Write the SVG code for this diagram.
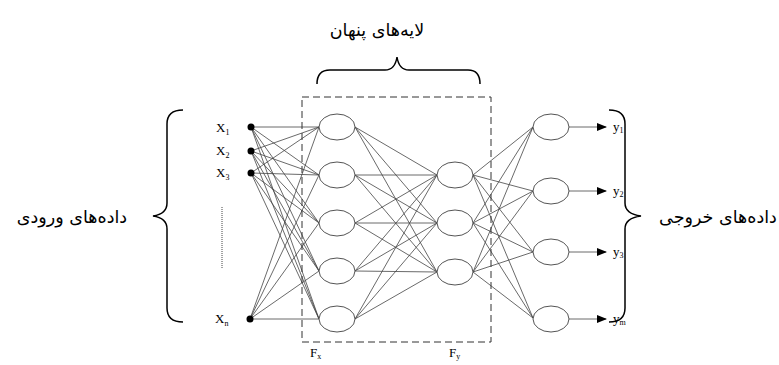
<svg xmlns="http://www.w3.org/2000/svg" width="779" height="365" viewBox="0 0 779 365">
<defs>
<marker id="ah" markerWidth="10" markerHeight="8" refX="9" refY="4" orient="auto" markerUnits="userSpaceOnUse">
<path d="M0,0 L10,4 L0,8 Z" fill="#000"/>
</marker>
</defs>
<style>
.n{fill:#fff;stroke:#555;stroke-width:1}
.c line{stroke:#444;stroke-width:0.8}
.br{fill:none;stroke:#000;stroke-width:1.5}
.fa{font-family:"DejaVu Sans","Noto Sans",sans-serif;font-size:17.5px;fill:#000}
.lt{font-family:"Liberation Serif",serif;font-size:13px;fill:#000}
.sub{font-size:8px}
</style>
<rect width="779" height="365" fill="#fff"/>
<g id="connectors" class="c">
<line x1="251" y1="127" x2="319" y2="127"/><line x1="251" y1="127" x2="319" y2="175"/><line x1="251" y1="127" x2="319" y2="223"/><line x1="251" y1="127" x2="319" y2="271"/><line x1="251" y1="127" x2="319" y2="319"/>
<line x1="251" y1="151" x2="319" y2="127"/><line x1="251" y1="151" x2="319" y2="175"/><line x1="251" y1="151" x2="319" y2="223"/><line x1="251" y1="151" x2="319" y2="271"/><line x1="251" y1="151" x2="319" y2="319"/>
<line x1="251" y1="173" x2="319" y2="127"/><line x1="251" y1="173" x2="319" y2="175"/><line x1="251" y1="173" x2="319" y2="223"/><line x1="251" y1="173" x2="319" y2="271"/><line x1="251" y1="173" x2="319" y2="319"/>
<line x1="250" y1="319" x2="319" y2="127"/><line x1="250" y1="319" x2="319" y2="175"/><line x1="250" y1="319" x2="319" y2="223"/><line x1="250" y1="319" x2="319" y2="271"/><line x1="250" y1="319" x2="319" y2="319"/>
<line x1="355" y1="127" x2="437" y2="175"/><line x1="355" y1="127" x2="437" y2="223"/><line x1="355" y1="127" x2="437" y2="272"/>
<line x1="355" y1="175" x2="437" y2="175"/><line x1="355" y1="175" x2="437" y2="223"/><line x1="355" y1="175" x2="437" y2="272"/>
<line x1="355" y1="223" x2="437" y2="175"/><line x1="355" y1="223" x2="437" y2="223"/><line x1="355" y1="223" x2="437" y2="272"/>
<line x1="355" y1="271" x2="437" y2="175"/><line x1="355" y1="271" x2="437" y2="223"/><line x1="355" y1="271" x2="437" y2="272"/>
<line x1="355" y1="319" x2="437" y2="175"/><line x1="355" y1="319" x2="437" y2="223"/><line x1="355" y1="319" x2="437" y2="272"/>
<line x1="473" y1="175" x2="533" y2="127"/><line x1="473" y1="175" x2="533" y2="191"/><line x1="473" y1="175" x2="533" y2="252"/><line x1="473" y1="175" x2="533" y2="318"/>
<line x1="473" y1="223" x2="533" y2="127"/><line x1="473" y1="223" x2="533" y2="191"/><line x1="473" y1="223" x2="533" y2="252"/><line x1="473" y1="223" x2="533" y2="318"/>
<line x1="473" y1="272" x2="533" y2="127"/><line x1="473" y1="272" x2="533" y2="191"/><line x1="473" y1="272" x2="533" y2="252"/><line x1="473" y1="272" x2="533" y2="318"/>
<line x1="569" y1="127" x2="606" y2="127" stroke="#000" marker-end="url(#ah)"/>
<line x1="569" y1="191" x2="606" y2="191" stroke="#000" marker-end="url(#ah)"/>
<line x1="569" y1="252" x2="606" y2="252" stroke="#000" marker-end="url(#ah)"/>
<line x1="569" y1="319" x2="606" y2="319" stroke="#000" marker-end="url(#ah)"/>
</g>
<rect x="302" y="97" width="189" height="245" fill="none" stroke="#333" stroke-width="1" stroke-dasharray="7,4"/>
<g id="inputs">
<circle cx="251" cy="127" r="3.5" fill="#000"/>
<circle cx="251" cy="151" r="3.5" fill="#000"/>
<circle cx="251" cy="173" r="3.5" fill="#000"/>
<circle cx="250" cy="319" r="3.5" fill="#000"/>
<text class="lt" x="216" y="132">X<tspan class="sub" dy="3">1</tspan></text>
<text class="lt" x="216" y="155">X<tspan class="sub" dy="3">2</tspan></text>
<text class="lt" x="216" y="177">X<tspan class="sub" dy="3">3</tspan></text>
<text class="lt" x="215" y="323">X<tspan class="sub" dy="3">n</tspan></text>
<line x1="222" y1="207" x2="222" y2="268" stroke="#444" stroke-width="1" stroke-dasharray="1,1"/>
</g>
<g id="hidden1">
<ellipse class="n" cx="337" cy="127" rx="18" ry="13"/>
<ellipse class="n" cx="337" cy="175" rx="18" ry="13"/>
<ellipse class="n" cx="337" cy="223" rx="18" ry="13"/>
<ellipse class="n" cx="337" cy="271" rx="18" ry="13"/>
<ellipse class="n" cx="337" cy="319" rx="18" ry="13"/>
</g>
<g id="hidden2">
<ellipse class="n" cx="455" cy="175" rx="18" ry="13"/>
<ellipse class="n" cx="455" cy="223" rx="18" ry="13"/>
<ellipse class="n" cx="455" cy="272" rx="18" ry="13"/>
</g>
<g id="outputs">
<ellipse class="n" cx="551" cy="127" rx="18" ry="13"/>
<ellipse class="n" cx="551" cy="191" rx="18" ry="13"/>
<ellipse class="n" cx="551" cy="252" rx="18" ry="13"/>
<ellipse class="n" cx="551" cy="319" rx="18" ry="13"/>
<text class="lt" x="613" y="131">y<tspan class="sub" dy="2">1</tspan></text>
<text class="lt" x="613" y="195">y<tspan class="sub" dy="2">2</tspan></text>
<text class="lt" x="613" y="256">y<tspan class="sub" dy="2">3</tspan></text>
<text class="lt" x="613" y="323">y<tspan class="sub" dy="2">m</tspan></text>
</g>
<g id="labels">
<text class="lt" x="310" y="357">F<tspan class="sub" dy="2">x</tspan></text>
<text class="lt" x="449" y="357">F<tspan class="sub" dy="2">y</tspan></text>
<path class="br" d="M183,110 Q167,110 167,124 L167,203 Q167,214 153,216 Q167,218 167,229 L167,308 Q167,322 183,322"/>
<path class="br" d="M609,110 Q625,110 625,124 L625,203 Q625,214 641,216 Q625,218 625,229 L625,308 Q625,322 609,322"/>
<path class="br" d="M317,84 Q317,70 330,70 L385,70 Q395,70 397,57 Q399,70 409,70 L468,70 Q480,70 480,84"/>
<text class="fa" x="377" y="36" text-anchor="middle">لایه‌های پنهان</text>
<text class="fa" x="72" y="223" text-anchor="middle">داده‌های ورودی</text>
<text class="fa" x="718" y="223" text-anchor="middle">داده‌های خروجی</text>
</g>
</svg>
